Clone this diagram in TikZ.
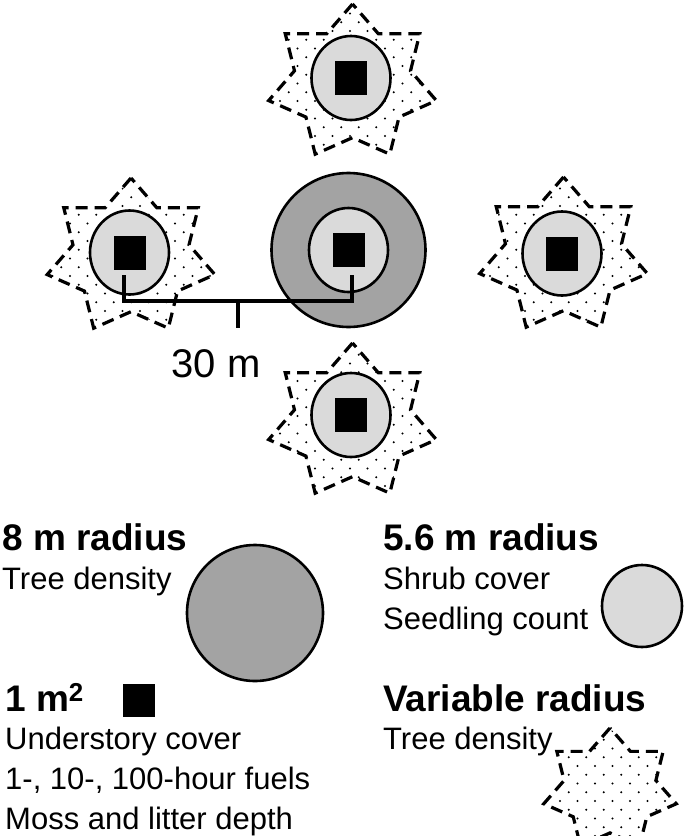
\documentclass[tikz,border=0pt]{standalone}
\usepackage{fontspec}
\setmainfont{Liberation Sans}
\usetikzlibrary{patterns}
\pgfdeclarepatternformonly{mydots}{\pgfqpoint{-1.5pt}{-1.5pt}}{\pgfqpoint{10.5pt}{10.5pt}}{\pgfqpoint{17.5pt}{17.5pt}}{%
  \pgfpathcircle{\pgfqpoint{0pt}{0pt}}{1.1pt}%
  \pgfpathcircle{\pgfqpoint{8.75pt}{8.75pt}}{1.1pt}%
  \pgfusepath{fill}}
\definecolor{lgray}{RGB}{218,218,218}
\definecolor{dgray}{RGB}{163,163,163}
\tikzset{
  starline/.style={line width=3.2pt, dash pattern=on 12pt off 7pt, pattern=mydots, pattern color=black},
  ringline/.style={line width=2.6pt, draw=black},
  barline/.style={line width=3.4pt, line cap=butt},
  lbl/.style={anchor=base west, inner sep=0pt, font=\fontsize{31}{31}\selectfont},
  hdr/.style={anchor=base west, inner sep=0pt, font=\fontsize{37}{37}\selectfont\bfseries},
}
% star: cx cy Rx Ry
\newcommand\myStar[4]{%
  \draw[starline] ({#1},{#2-#4})
    \foreach \k in {1,...,6}{
      -- ({#1+0.692*#3*cos(90+(2*\k-1)*25.7143)},{#2-0.692*#4*sin(90+(2*\k-1)*25.7143)})
      -- ({#1+#3*cos(90+2*\k*25.7143)},{#2-#4*sin(90+2*\k*25.7143)})
    }
    -- ({#1+0.692*#3*cos(90+13*25.7143)},{#2-0.692*#4*sin(90+13*25.7143)}) -- cycle;}
% light circle + square: cx cy
\newcommand\myPlot[2]{%
  \draw[ringline, fill=lgray] (#1,#2) ellipse [x radius=39.5, y radius=42];
  \fill[black] ({#1-16},{#2-17}) rectangle ({#1+16},{#2+17});}
\begin{document}
\begin{tikzpicture}[x=1pt,y=-1pt]
\useasboundingbox (0,0) rectangle (685,836);
\clip (0,0) rectangle (685,836);
% top
\myStar{352.5}{83}{86}{79}
\myPlot{351}{78}
% left
\myStar{131}{257}{86}{79}
\myPlot{129.5}{252.5}
% right
\myStar{563.5}{256}{86}{79}
\myPlot{562}{253.5}
% bottom
\myStar{352.5}{422}{86}{79}
\myPlot{351}{415}
% centre
\draw[ringline, fill=dgray] (348.5,250) circle [radius=77];
\myPlot{348.5}{250}
% scale bar
\coordinate (bl) at (124,275);
\coordinate (blc) at (124,301);
\coordinate (br) at (352,275);
\coordinate (brc) at (352,301);
\coordinate (tk) at (238,301);
\coordinate (tkend) at (238,328);
\draw[barline] (bl) -- (blc) -- (brc) -- (br);
\draw[barline] (tk) -- (tkend);
\node[inner sep=0pt, anchor=base, font=\fontsize{40}{40}\selectfont] (thirty) at (216,377) {30 m};
% legend
\node[hdr] (h8) at (2,550) {8 m radius};
\node[lbl] (t8) at (2,589) {Tree density};
\draw[ringline, fill=dgray] (255,613) circle [radius=68];
\node[hdr] (h56) at (383,550) {5.6 m radius};
\node[lbl] (s1) at (383,589) {Shrub cover};
\node[lbl] (s2) at (383,629) {Seedling count};
\draw[ringline, fill=lgray] (642,606) ellipse [x radius=40, y radius=41];
\node[hdr] (h1) at (5,711) {1 m\textsuperscript{2}};
\fill[black] (123,684) rectangle (155,717);
\node[lbl] (u1) at (5,749) {Understory cover};
\node[lbl] (u2) at (5,789) {1-, 10-, 100-hour fuels};
\node[lbl] (u3) at (5,829) {Moss and litter depth};
\node[hdr] (hv) at (383,711) {Variable radius};
\node[lbl] (v1) at (383,749) {Tree density};
\myStar{610}{790}{68}{62}
\end{tikzpicture}
\end{document}
